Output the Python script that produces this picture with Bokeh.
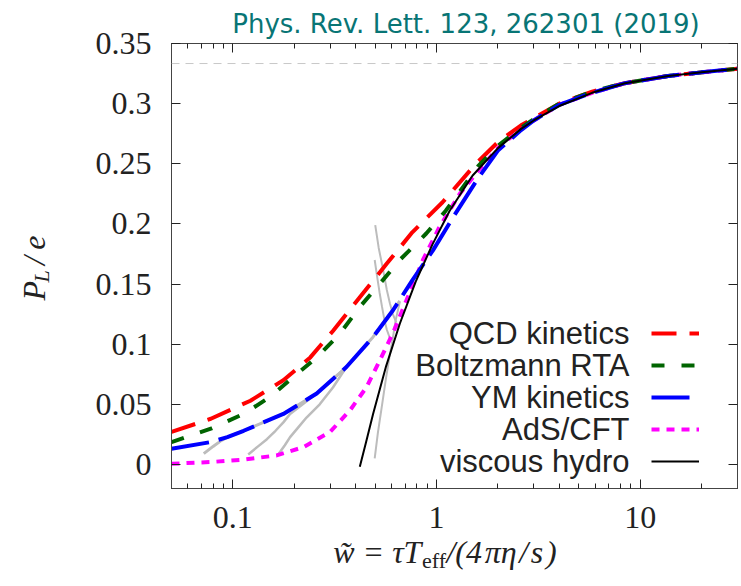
import math
from bokeh.plotting import figure
from bokeh.models import (LogAxis, LinearAxis, FixedTicker, CustomJSTickFormatter,
                          Span, Label, Legend, LegendItem, Range1d)
from bokeh.embed import file_html
from bokeh.resources import INLINE

# ---------------- data ----------------
title_text = "Phys. Rev. Lett. 123, 262301 (2019)"
legend_labels = ["QCD kinetics", "Boltzmann RTA", "YM kinetics", "AdS/CFT", "viscous hydro"]

x_major = [0.1, 1, 10]
x_minor = [0.05, 0.06, 0.07, 0.08, 0.09, 0.2, 0.3, 0.4, 0.5, 0.6, 0.7, 0.8, 0.9,
           2, 3, 4, 5, 6, 7, 8, 9, 20, 30]
y_major = [0, 0.05, 0.1, 0.15, 0.2, 0.25, 0.3, 0.35]
asymptote = 1.0 / 3.0

qcd_x = [0.05, 0.078, 0.122, 0.177, 0.24, 0.31, 0.42, 0.57, 0.76, 1.07, 1.56, 2.0,
         2.6, 3.0, 4.0, 5.8, 8.4, 13.7, 20, 30]
qcd_y = [0.027, 0.038, 0.053, 0.070, 0.089, 0.111, 0.139, 0.167, 0.193, 0.218, 0.250,
         0.268, 0.282, 0.288, 0.300, 0.310, 0.317, 0.323, 0.326, 0.329]

rta_x = [0.05, 0.078, 0.113, 0.152, 0.198, 0.258, 0.335, 0.42, 0.525, 0.66, 0.89,
         1.11, 1.6, 2.0, 2.6, 3.0, 4.0, 5.8, 8.4, 13.7, 20, 30]
rta_y = [0.0186, 0.0297, 0.042, 0.056, 0.0726, 0.089, 0.1086, 0.131, 0.150, 0.170,
         0.192, 0.211, 0.248, 0.265, 0.280, 0.287, 0.300, 0.310, 0.317, 0.323,
         0.326, 0.329]

ym_x = [0.05, 0.078, 0.094, 0.113, 0.177, 0.258, 0.361, 0.488, 0.61, 0.76, 0.96, 1.2,
        1.6, 2.0, 2.6, 3.0, 4.0, 5.8, 8.4, 13.7, 20, 30]
ym_y = [0.013, 0.0186, 0.0227, 0.028, 0.042, 0.059, 0.081, 0.106, 0.128, 0.153, 0.178,
        0.205, 0.238, 0.261, 0.278, 0.286, 0.299, 0.309, 0.317, 0.323, 0.326, 0.329]

ads_x = [0.05, 0.078, 0.113, 0.164, 0.222, 0.30, 0.376, 0.452, 0.525, 0.61, 0.71,
         0.857, 1.03, 1.3, 1.6, 2.0, 2.6, 3.0, 4.0, 5.8, 8.4, 13.7, 20, 30]
ads_y = [0.0006, 0.002, 0.004, 0.0075, 0.0144, 0.027, 0.045, 0.064, 0.086, 0.109,
         0.136, 0.170, 0.197, 0.225, 0.244, 0.263, 0.279, 0.286, 0.299, 0.309, 0.317,
         0.323, 0.326, 0.329]

hydro_x = [0.42, 0.45, 0.488, 0.566, 0.66, 0.79, 0.955, 1.16, 1.5, 2.0, 2.6, 3.0, 4.0,
           5.8, 8.4, 13.7, 20, 30]
hydro_y = [-0.002, 0.018, 0.042, 0.082, 0.117, 0.152, 0.183, 0.211, 0.240, 0.263,
           0.279, 0.286, 0.298, 0.309, 0.317, 0.323, 0.326, 0.329]

# grey early-time / attractor-approach curves
grey_a_x = [0.072, 0.08, 0.088, 0.094, 0.113, 0.177, 0.258, 0.361, 0.488, 0.61, 0.66]
grey_a_y = [0.009, 0.015, 0.020, 0.0227, 0.028, 0.042, 0.059, 0.081, 0.106, 0.128, 0.136]
grey_b_x = [0.119, 0.133, 0.147, 0.162, 0.177, 0.191, 0.258, 0.361]
grey_b_y = [0.0083, 0.015, 0.021, 0.028, 0.035, 0.042, 0.059, 0.081]
grey_c_x = [0.167, 0.18, 0.191, 0.21, 0.23, 0.267, 0.31, 0.361]
grey_c_y = [0.0083, 0.016, 0.0227, 0.031, 0.039, 0.050, 0.064, 0.081]
grey_d_x = [0.50, 0.52, 0.545, 0.57, 0.59, 0.61, 0.635]
grey_d_y = [0.199, 0.180, 0.163, 0.145, 0.134, 0.125, 0.118]
grey_e_x = [0.497, 0.51, 0.525, 0.54, 0.555, 0.57, 0.59]
grey_e_y = [0.170, 0.157, 0.143, 0.131, 0.120, 0.112, 0.105]
grey_f_x = [0.497, 0.515, 0.544, 0.565, 0.587, 0.61, 0.63, 0.66]
grey_f_y = [0.005, 0.026, 0.053, 0.072, 0.089, 0.105, 0.120, 0.135]

x_lim = (0.05, 30)
y_lim = (-0.02, 0.35)

# ---------------- layout constants (pixels) ----------------
W, H = 741, 586
FL, FR, FT, FB = 171, 738, 43, 488   # frame edges on the canvas

p = figure(width=W, height=H, x_axis_type="log",
           x_range=Range1d(*x_lim), y_range=Range1d(*y_lim),
           output_backend="svg", toolbar_location=None,
           min_border_left=FL, min_border_right=W - FR, min_border_top=FT,
           min_border_bottom=H - FB)
p.grid.visible = False
p.outline_line_color = "#444444"
p.outline_line_width = 1
p.background_fill_color = "white"
p.border_fill_color = "white"

xt = FixedTicker(ticks=x_major, minor_ticks=x_minor)
yt = FixedTicker(ticks=y_major, minor_ticks=[])
fmt = CustomJSTickFormatter(code="return Number(tick.toFixed(3)).toString();")
blank = CustomJSTickFormatter(code="return ' ';")

tick_font = "Liberation Serif"
for ax in (p.xaxis[0], p.yaxis[0]):
    ax.formatter = fmt
    ax.major_label_text_font = tick_font
    ax.major_label_text_font_size = "32px"
    ax.major_label_text_color = "#222222"
    ax.axis_line_color = "#444444"
    ax.major_tick_line_color = "#222222"
    ax.minor_tick_line_color = "#222222"
    ax.major_tick_in = 9
    ax.major_tick_out = 0
    ax.minor_tick_in = 5
    ax.minor_tick_out = 0
p.xaxis[0].ticker = xt
p.yaxis[0].ticker = yt
p.xaxis[0].major_label_standoff = 18
p.yaxis[0].major_label_standoff = 20
p.yaxis[0].minor_tick_line_color = None

top_ax = LogAxis(ticker=xt, formatter=blank, major_label_text_font_size="2px",
                 major_label_standoff=0,
                 major_tick_in=9, major_tick_out=0, minor_tick_in=5, minor_tick_out=0,
                 axis_line_color="#444444", major_tick_line_color="#222222",
                 minor_tick_line_color="#222222")
p.add_layout(top_ax, "above")
right_ax = LinearAxis(ticker=yt, formatter=blank, major_label_text_font_size="2px",
                      major_label_standoff=0,
                      major_tick_in=9, major_tick_out=0, minor_tick_line_color=None,
                      axis_line_color="#444444", major_tick_line_color="#222222")
p.add_layout(right_ax, "right")

p.add_layout(Span(location=asymptote, dimension="width", line_color="#c8c8c8",
                  line_dash="8 6", line_width=1))

grey = "#bcbcbc"
for gx, gy, w in [(grey_a_x, grey_a_y, 3), (grey_b_x, grey_b_y, 2.5), (grey_c_x, grey_c_y, 2.5),
                  (grey_d_x, grey_d_y, 2), (grey_e_x, grey_e_y, 2), (grey_f_x, grey_f_y, 2)]:
    p.line(gx, gy, line_color=grey, line_width=w)

r_ads = p.line(ads_x, ads_y, line_color="#ff00ff", line_width=4, line_dash="8 7")
r_qcd = p.line(qcd_x, qcd_y, line_color="#ff0000", line_width=4, line_dash="25 13")
r_rta = p.line(rta_x, rta_y, line_color="#006400", line_width=4, line_dash="13 17")
r_ym = p.line(ym_x, ym_y, line_color="#0000ff", line_width=4, line_dash="38 10")
r_hyd = p.line(hydro_x, hydro_y, line_color="black", line_width=2)

renderers = [r_qcd, r_rta, r_ym, r_ads, r_hyd]
legend = Legend(items=[LegendItem(label=" ", renderers=[r]) for r in renderers],
                location=(480, 11), orientation="vertical", glyph_width=48, glyph_height=32,
                label_height=32, label_width=2, label_standoff=0, padding=0, spacing=0,
                margin=0, background_fill_alpha=0, border_line_alpha=0,
                label_text_font_size="4px")
p.add_layout(legend)

row_y = [155, 123, 91, 59, 27]
for txt, yy in zip(legend_labels, row_y):
    p.add_layout(Label(x=458, y=yy, x_units="screen", y_units="screen", text=txt,
                       text_align="right", text_baseline="middle",
                       text_font="Liberation Sans", text_font_size="31px",
                       text_color="#222222"))

# ---- texts outside the frame: side-panel labels placed through the plot scales ----
lx0, lx1 = math.log10(x_lim[0]), math.log10(x_lim[1])


def px_to_data(X, Y):
    lx = lx0 + (X - FL) * (lx1 - lx0) / (FR - FL)
    yy = y_lim[1] - (Y - FT) * (y_lim[1] - y_lim[0]) / (FB - FT)
    return 10 ** lx, yy


def side_label(side, text, X, Y, size, font, style="normal", color="#222222",
               angle=0.0, align="left"):
    dx, dy = px_to_data(X, Y)
    p.add_layout(Label(x=dx, y=dy, x_units="data", y_units="data", text=text,
                       angle=angle, text_align=align, text_baseline="alphabetic",
                       text_font=font, text_font_size=size, text_font_style=style,
                       text_color=color), side)


serif = "Liberation Serif"
rot = math.pi / 2

# title
side_label("above", title_text, 466, 23, "26px", "DejaVu Sans", color="#087575",
           align="center")
# y axis label  P_L / e
side_label("left", "P\u2002/\u2009e", 33, 300, "32px", serif, "italic", angle=rot)
side_label("left", "L", 41, 282, "22px", serif, "italic", angle=rot)
# x axis label  w~ = tau T_eff / (4 pi eta / s)
side_label("below",
           "w\u0303 = \u03c4T\u2002\u2009\u200a/(4\u200a\u03c0\u03b7\u200a/\u200as\u200a)",
           333, 551, "32px", serif, "italic")
side_label("left", "eff", 422, 560, "22px", serif, "normal")

open("out.html", "w").write(file_html(p, INLINE))
